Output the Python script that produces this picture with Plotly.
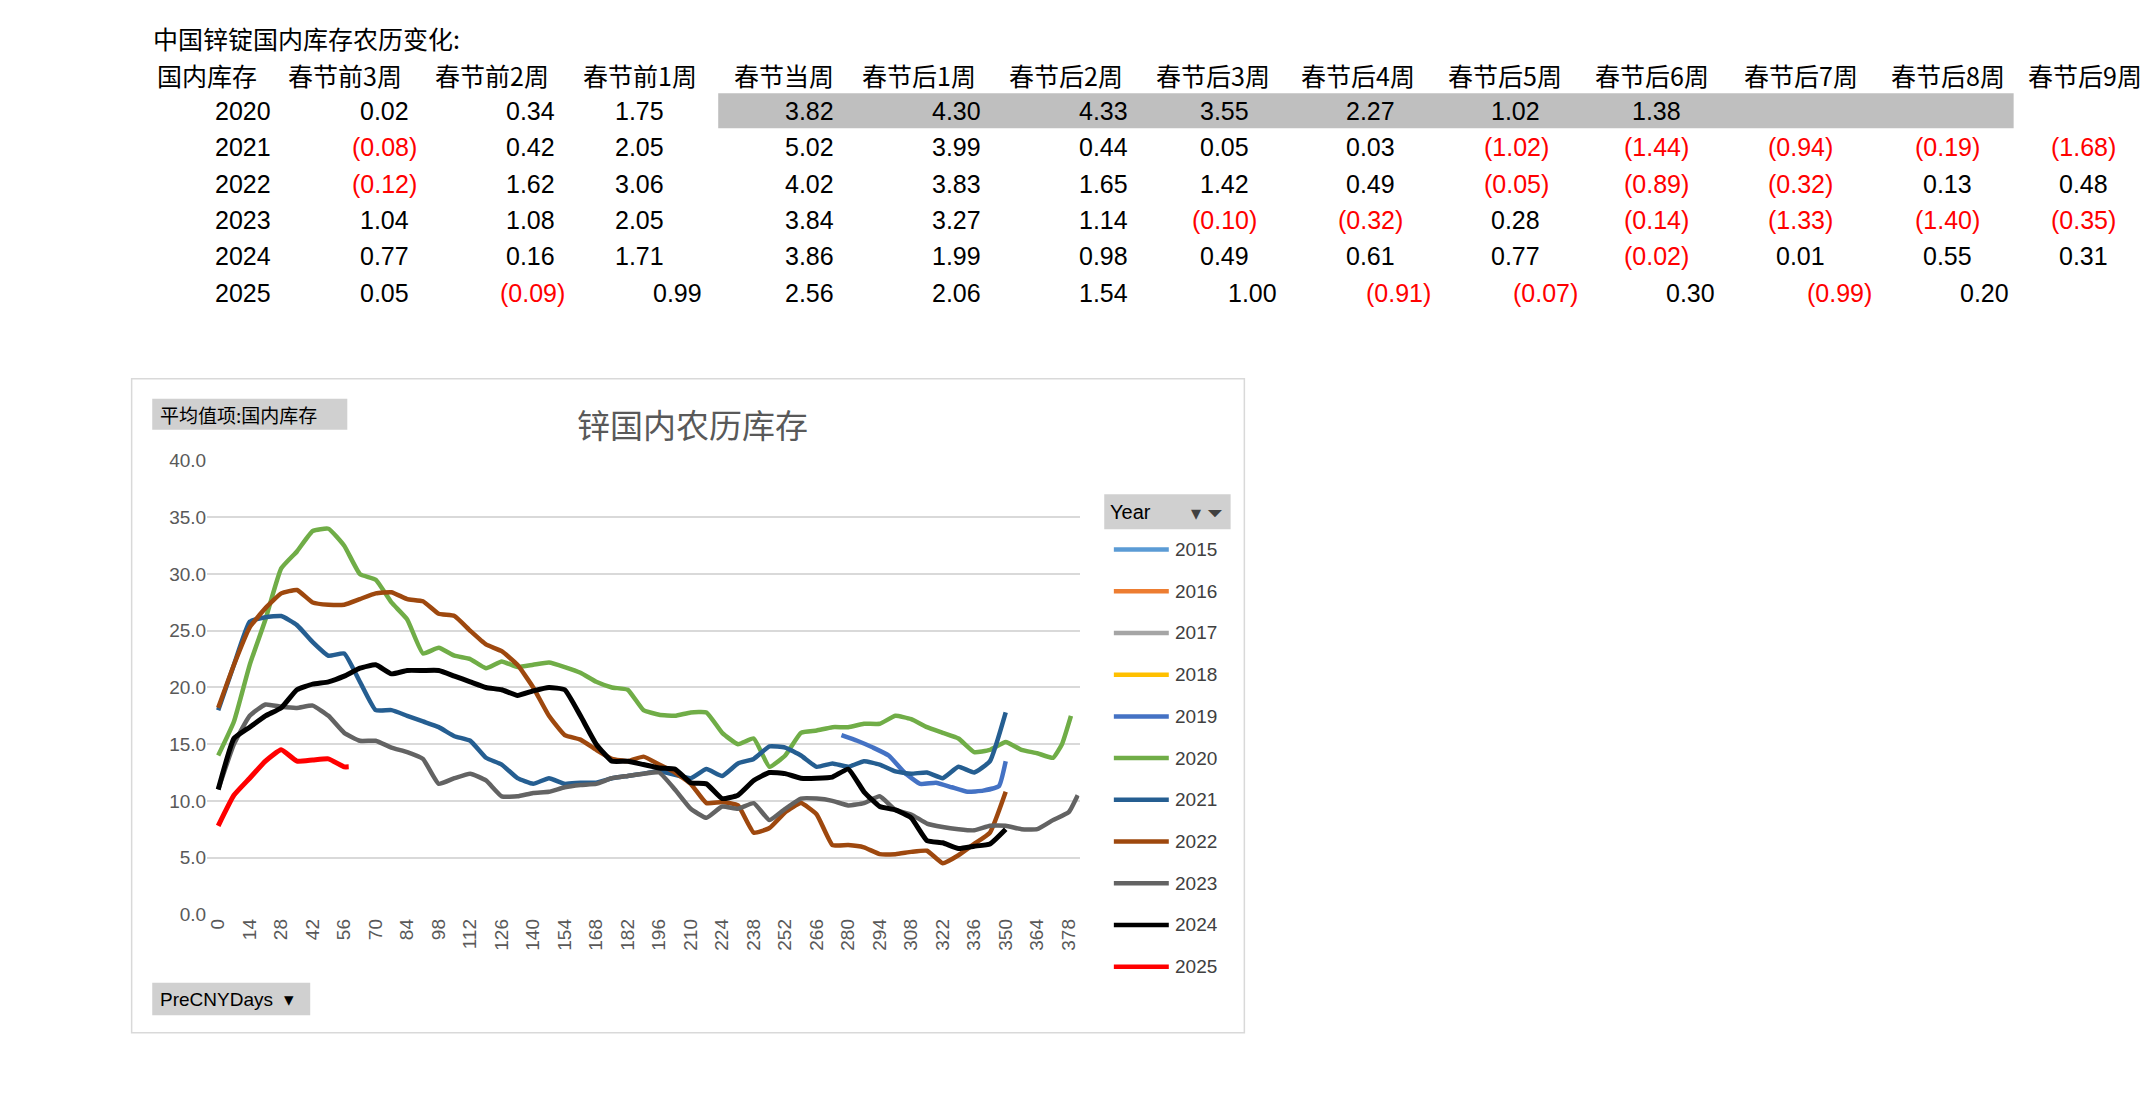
import plotly.graph_objects as go

# ---- table data ----
table_title = '中国锌锭国内库存农历变化:'
table_cols = ['国内库存', '春节前3周', '春节前2周', '春节前1周', '春节当周', '春节后1周', '春节后2周',
              '春节后3周', '春节后4周', '春节后5周', '春节后6周', '春节后7周', '春节后8周', '春节后9周']
table_years = ['2020', '2021', '2022', '2023', '2024', '2025']
table_vals = [
    [0.02, 0.34, 1.75, 3.82, 4.30, 4.33, 3.55, 2.27, 1.02, 1.38, None, None, None],
    [-0.08, 0.42, 2.05, 5.02, 3.99, 0.44, 0.05, 0.03, -1.02, -1.44, -0.94, -0.19, -1.68],
    [-0.12, 1.62, 3.06, 4.02, 3.83, 1.65, 1.42, 0.49, -0.05, -0.89, -0.32, 0.13, 0.48],
    [1.04, 1.08, 2.05, 3.84, 3.27, 1.14, -0.10, -0.32, 0.28, -0.14, -1.33, -1.40, -0.35],
    [0.77, 0.16, 1.71, 3.86, 1.99, 0.98, 0.49, 0.61, 0.77, -0.02, 0.01, 0.55, 0.31],
    [0.05, -0.09, 0.99, 2.56, 2.06, 1.54, 1.00, -0.91, -0.07, 0.30, -0.99, 0.20, None],
]

# ---- chart data: days before/after CNY vs inventory ----
days7 = list(range(0, 351, 7))
s2020_x = list(range(0, 372, 7)) + [375, 379]
s2020 = [14, 17, 22, 26, 30.5, 32, 33.8, 34, 32.5, 30, 29.5, 27.5, 26, 23, 23.5, 22.8, 22.5, 21.7,
         22.3, 21.8, 22, 22.2, 21.8, 21.3, 20.5, 20, 19.8, 18, 17.6, 17.5, 17.8, 17.8, 16, 15, 15.5,
         13, 14, 16, 16.2, 16.5, 16.5, 16.8, 16.8, 17.5, 17.2, 16.5, 16, 15.5, 14.3, 14.5, 15.2,
         14.5, 14.2, 13.8, 15, 17.5]
s2021 = [18, 22, 25.8, 26.2, 26.3, 25.5, 24, 22.8, 23, 20.5, 18, 18, 17.5, 17, 16.5, 15.7, 15.3,
         13.8, 13.2, 12, 11.5, 12, 11.5, 11.6, 11.6, 12, 12.2, 12.4, 12.6, 12.3, 12, 12.8, 12.2,
         13.3, 13.7, 14.8, 14.7, 14, 13, 13.3, 13, 13.5, 13.2, 12.6, 12.4, 12.5, 12, 13, 12.5, 13.5,
         17.8]
s2022 = [18.2, 22, 25.3, 27, 28.3, 28.6, 27.5, 27.3, 27.3, 27.8, 28.3, 28.4, 27.8, 27.6, 26.5,
         26.3, 25, 23.8, 23.2, 22, 20, 17.5, 15.8, 15.4, 14.5, 13.7, 13.5, 13.9, 13.2, 12.5, 11.5,
         9.8, 9.9, 9.6, 7.2, 7.6, 9, 9.8, 8.8, 6.1, 6.1, 5.9, 5.3, 5.3, 5.5, 5.6, 4.5, 5.2, 6.2,
         7.2, 10.8]
s2023_x = list(range(0, 379, 7)) + [382]
s2023 = [11, 15, 17.5, 18.5, 18.3, 18.2, 18.4, 17.5, 16, 15.3, 15.3, 14.7, 14.3, 13.7, 11.5, 12,
         12.4, 11.8, 10.4, 10.4, 10.7, 10.8, 11.2, 11.4, 11.5, 12, 12.2, 12.4, 12.5, 11, 9.3, 8.5,
         9.5, 9.3, 9.8, 8.3, 9.3, 10.2, 10.2, 10, 9.6, 9.8, 10.4, 9.2, 8.8, 8, 7.7, 7.5, 7.4, 7.8,
         7.8, 7.5, 7.5, 8.3, 9, 10.5]
s2024 = [11, 15.5, 16.5, 17.5, 18.2, 19.8, 20.3, 20.5, 21, 21.7, 22, 21.2, 21.5, 21.5, 21.5, 21,
         20.5, 20, 19.8, 19.3, 19.7, 20, 19.8, 17.5, 15, 13.5, 13.5, 13.2, 12.9, 12.8, 11.6, 11.5,
         10.2, 10.5, 11.8, 12.5, 12.4, 12, 12, 12.1, 12.8, 10.8, 9.5, 9.2, 8.5, 6.5, 6.3, 5.8, 6,
         6.2, 7.5]
s2019_x = [277, 284, 291, 298, 305, 312, 319, 326, 333, 340, 347, 350]
s2019 = [15.8, 15.3, 14.7, 14, 12.5, 11.5, 11.6, 11.2, 10.8, 10.9, 11.3, 13.5]
s2025_x = [0, 7, 14, 21, 28, 35, 42, 49, 56, 58]
s2025 = [7.8, 10.5, 12, 13.5, 14.5, 13.5, 13.6, 13.7, 13, 13]

legend_years = ['2015', '2016', '2017', '2018', '2019', '2020', '2021', '2022', '2023', '2024', '2025']
legend_colors = ['#5B9BD5', '#ED7D31', '#A5A5A5', '#FFC000', '#4472C4', '#70AD47', '#255E91',
                 '#9E480E', '#636363', '#000000', '#FF0000']
series = {
    '2019': (s2019_x, s2019), '2020': (s2020_x, s2020), '2021': (days7, s2021),
    '2022': (days7, s2022), '2023': (s2023_x, s2023), '2024': (days7, s2024),
    '2025': (s2025_x, s2025),
}

W, H = 1568, 810  # reference coords (scaled screenshot)
def px(x): return x / W
def py(y): return 1 - y / H

CJK = 'Noto Sans CJK SC'
NUM = 'Liberation Sans Narrow, Liberation Sans, Arial'
FS = 25

def note(text, x, y, anchor, size, color='black', family=CJK):
    return dict(text=text, x=px(x), y=py(y), xref='paper', yref='paper',
                xanchor=anchor, yanchor='middle', showarrow=False,
                font=dict(family=family, size=size, color=color))

fig = go.Figure()
for yr, col in zip(legend_years, legend_colors):
    if yr in series:
        xs, ys = series[yr]
        fig.add_trace(go.Scatter(x=xs, y=ys, mode='lines', name=yr,
                                 line=dict(color=col, width=5 if yr in ('2024', '2025') else 4.5,
                                           shape='spline', smoothing=0.4),
                                 showlegend=False))

ann = []
shapes = []

# table
ann.append(note(table_title, 104, 15, 'left', FS))
col_centers = [145, 245, 352, 460, 565, 663, 770, 877, 983, 1090, 1197, 1305, 1412, 1512]
for c, t in zip(col_centers, table_cols):
    ann.append(note(t, c, 42, 'center', FS))
shapes.append(dict(type='rect', xref='paper', yref='paper', x0=px(517), x1=px(1460),
                   y0=py(82), y1=py(56), fillcolor='#BFBFBF', line=dict(width=0), layer='below'))
rights_main = [293, 400, 479, 603, 710, 817, 905, 1011, 1117, 1219, 1324, 1431, 1530]
rights_2025 = [293, 401, 507, 603, 710, 817, 925, 1031, 1138, 1244, 1352, 1458, 1560]
row_y = [69, 96, 123, 150, 177, 204]
for r, (yr, vals) in enumerate(zip(table_years, table_vals)):
    ann.append(note(yr, 193, row_y[r], 'right', FS, family=NUM))
    rights = rights_2025 if yr == '2025' else rights_main
    for c, v in enumerate(vals):
        if v is None:
            continue
        neg = v < 0
        txt = f'({abs(v):.2f})' if neg else f'{v:.2f}'
        ann.append(note(txt, rights[c] + (6 if neg else 0), row_y[r], 'right', FS,
                        color='red' if neg else 'black', family=NUM))

# chart frame
shapes.append(dict(type='rect', xref='paper', yref='paper', x0=px(90), x1=px(900),
                   y0=py(754), y1=py(268), line=dict(color='#D9D9D9', width=1.5),
                   fillcolor='white', layer='below'))
shapes.append(dict(type='rect', xref='paper', yref='paper', x0=px(105), x1=px(247),
                   y0=py(306), y1=py(283), line=dict(width=0), fillcolor='#D0D0D0', layer='below'))
ann.append(note('平均值项:国内库存', 109, 295, 'left', 19))
shapes.append(dict(type='rect', xref='paper', yref='paper', x0=px(105), x1=px(220),
                   y0=py(741), y1=py(717), line=dict(width=0), fillcolor='#D0D0D0', layer='below'))
ann.append(note('PreCNYDays  ▾', 109, 729, 'left', 19, family='Liberation Sans'))
ann.append(note('锌国内农历库存', 498, 302, 'center', 33, color='#595959'))

# custom legend
shapes.append(dict(type='rect', xref='paper', yref='paper', x0=px(798), x1=px(890),
                   y0=py(380), y1=py(354), line=dict(width=0), fillcolor='#D0D0D0', layer='below'))
ann.append(note('Year', 801, 367, 'left', 20, family='Liberation Sans'))
ann.append(note('▾ ⏷', 886, 368, 'right', 20, color='#404040', family='DejaVu Sans'))
for i, (yr, col) in enumerate(zip(legend_years, legend_colors)):
    yy = 395 + i * 31
    shapes.append(dict(type='line', xref='paper', yref='paper', x0=px(805), x1=px(845),
                       y0=py(yy), y1=py(yy), line=dict(color=col, width=4.5)))
    ann.append(note(yr, 848, yy, 'left', 19, color='#404040', family='Liberation Sans'))

fig.update_layout(
    width=2154, height=1111, margin=dict(l=0, r=0, t=0, b=0),
    paper_bgcolor='white', plot_bgcolor='rgba(0,0,0,0)', showlegend=False,
    annotations=ann, shapes=shapes,
    xaxis=dict(domain=[px(145), px(780)], range=[-4.9, 382.8], tickmode='linear', tick0=0, dtick=14,
               tickangle=-90, showgrid=False, zeroline=False, showline=False,
               tickfont=dict(family='Liberation Sans', size=19, color='#595959')),
    yaxis=dict(domain=[py(666), py(329)], range=[0, 40], dtick=5, tickformat='.1f',
               gridcolor='#D9D9D9', gridwidth=1.5, zeroline=False, showline=False,
               tickfont=dict(family='Liberation Sans', size=19, color='#595959')),
)

fig.write_html('out.html')
